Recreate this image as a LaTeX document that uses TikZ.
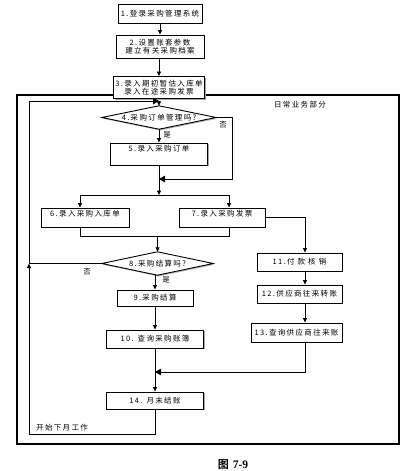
\documentclass[tikz,border=0pt]{standalone}
\usepackage{fontspec}
\newfontfamily\cjk{Noto Sans CJK SC}[LetterSpace=18]
\newfontfamily\cjkb{Noto Sans CJK SC Bold}
\setmainfont{Liberation Serif}
\usetikzlibrary{arrows.meta,shadows,calc}
\tikzset{
  box/.style={draw=black, line width=0.9pt, fill=white, inner sep=1pt,
    font=\cjk\fontsize{7.5}{10}\selectfont, text=black, align=center,
    drop shadow={shadow xshift=1.4pt, shadow yshift=-1.4pt, fill=black!35, opacity=1}},
  dia/.style={inner sep=0pt, font=\cjk\fontsize{7.5}{10}\selectfont, text=black},
  lbl/.style={font=\cjk\fontsize{7.5}{10}\selectfont, text=black, inner sep=0pt},
  con/.style={line width=0.8pt},
  arr/.style={line width=0.8pt, -{Triangle[length=4.5pt,width=4pt]}},
  bigarr/.style={line width=0.8pt, -{Triangle[length=6pt,width=6.5pt]}},
}
\begin{document}
\begin{tikzpicture}[x=1pt,y=-1pt]
\useasboundingbox (0,0) rectangle (419,471);
% outer frame
\draw[line width=1.2pt] (17,95) rectangle (399,444);
\node[lbl] (title) at (300,105) {日常业务部分};

% boxes
\node[box, minimum width=84pt, minimum height=19pt] (n1) at (160,13.5) {1.登录采购管理系统};
\node[box, minimum width=88pt, minimum height=23pt, inner sep=0pt] (n2) at (160,46.5) {2.设置账套参数\\[-1.5pt]建立有关采购档案};
\node[box, minimum width=91pt, minimum height=22pt, inner sep=0pt] (n3) at (159,87.5) {3.录入期初暂估入库单\\[-1.5pt]录入在途采购发票};

\coordinate (top) at (159,101);
\node[dia, minimum width=114pt, minimum height=23pt] (d4) at (159,117.5) {4.采购订单管理吗?};
\draw[line width=0.9pt, fill=white, drop shadow={shadow xshift=1.2pt, shadow yshift=-1.2pt, fill=black!30, opacity=1}] (d4.west) -- (d4.north) -- (d4.east) -- (d4.south) -- cycle;
\node[dia] at (d4) {4.采购订单管理吗?};

\node[box, minimum width=97pt, minimum height=22pt, text depth=11pt] (n5) at (159,154) {5.录入采购订单};
\node[box, minimum width=88pt, minimum height=19pt, text depth=8pt] (n6) at (85,217.5) {6.录入采购入库单};
\node[box, minimum width=86pt, minimum height=19pt, text depth=8pt] (n7) at (222,217.5) {7.录入采购发票};

\node[dia, minimum width=111pt, minimum height=23pt] (d8) at (157.5,263.5) {8.采购结算吗?};
\draw[line width=0.9pt, fill=white, drop shadow={shadow xshift=1.2pt, shadow yshift=-1.2pt, fill=black!30, opacity=1}] (d8.west) -- (d8.north) -- (d8.east) -- (d8.south) -- cycle;
\node[dia] at (d8) {8.采购结算吗?};

\node[box, minimum width=76pt, minimum height=16pt] (n9) at (155,298) {9.采购结算};
\node[box, minimum width=97pt, minimum height=18pt] (n10) at (155,339) {10. 查询采购账簿};
\node[box, minimum width=85pt, minimum height=18pt] (n11) at (299.5,262) {11.付\ 款\ 核\ 销};
\node[box, minimum width=85pt, minimum height=18pt] (n12) at (299.5,294) {12.供应商往来转账};
\node[box, minimum width=91pt, minimum height=19pt] (n13) at (296.5,332.5) {13.查询供应商往来账};
\node[box, minimum width=97pt, minimum height=17pt] (n14) at (155,400.5) {14. 月末结账};

% labels
\node[lbl] (no4) at (223,124.5) {否};
\node[lbl] (yes4) at (167,135) {是};
\node[lbl] (no8) at (87,272) {否};
\node[lbl] (yes8) at (166,280) {是};
\node[lbl, anchor=west] (next) at (36,427.5) {开始下月工作};

% connectors
\draw[arr] (n1.south) -- (n2.north);
\draw[arr] (n2.south -| n3.north) -- (n3.north);
\draw[arr] (top) -- (d4.north);
\draw[arr] (d4.south) -- (n5.north);
\coordinate (j1) at (159,179);
\coordinate (split) at (159,195);
\draw[bigarr] (d4.east) -- ++(16,0) |- (j1);
\draw[arr] (n5.south) -- (split);
\coordinate (s6) at (80,195);
\coordinate (s7) at (229,195);
\draw[con] (s6) -- (s7);
\draw[arr] (s6) -- (s6 |- n6.north);
\draw[arr] (s7) -- (s7 |- n7.north);
\coordinate (b6) at (80,236);
\coordinate (b7) at (229,236);
\draw[con] (b6 |- n6.south) -- (b6) -- (b7) -- (b7 |- n7.south);
\coordinate (m8) at (157.5,236);
\draw[arr] (m8) -- (d8.north);
\coordinate (d8b) at (155,275);
\draw[arr] (d8b) -- (n9.north);
\draw[arr] (n9.south) -- (n10.north);
\coordinate (j2) at (155,372);
\draw[arr] (n10.south) -- (n14.north);
\coordinate (r7) at (305,218);
\draw[arr] (n7.east) -| (r7 |- n11.north);
\draw[arr] (n11.south -| r7) -- (r7 |- n12.north);
\draw[arr] (n12.south -| r7) -- (r7 |- n13.north);
\draw[bigarr] (n13.south -| r7) |- (j2);
% loop back
\coordinate (lp) at (29,263.5);
\coordinate (lb) at (29,434);
\draw[con] (d8.west) -- (lp);
\draw[arr] (n14.south) |- (lb) -- (lp);
\draw[bigarr] (lp) |- (top);

% caption
\node[inner sep=0pt] (cap) at (233,465) {{\cjkb\fontsize{11}{12}\selectfont 图}\hspace{4pt}{\fontsize{11.5}{12}\selectfont\bfseries 7-9}};
\end{tikzpicture}
\end{document}
